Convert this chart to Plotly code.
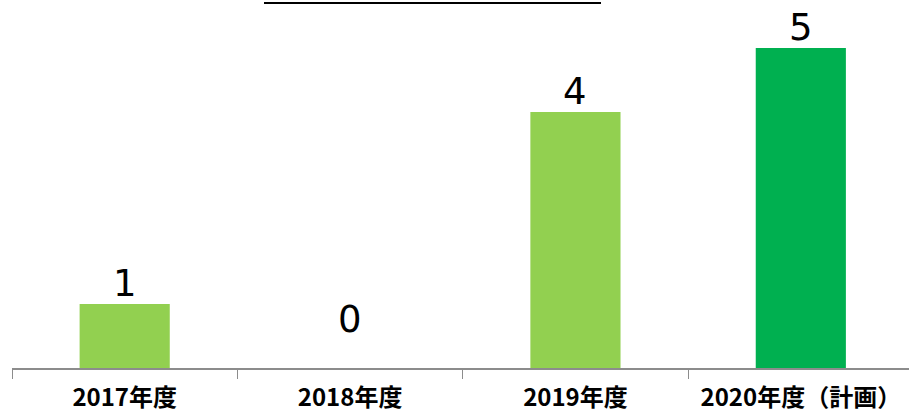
import plotly.graph_objects as go

categories = ["2017年度", "2018年度", "2019年度", "2020年度（計画）"]
values = [1, 0, 4, 5]
colors = ["#92D050", "#92D050", "#92D050", "#00B050"]
labels = ["1", "0", "4", "5"]

fig = go.Figure()
fig.add_trace(go.Bar(
    x=categories, y=values, marker=dict(color=colors, line=dict(width=0)),
    width=0.40, hoverinfo="skip"))

for c, v, t in zip(categories, values, labels):
    fig.add_annotation(x=c, y=v, text=t, showarrow=False, yanchor="bottom",
                       yshift=(25 if v == 0 else -3),
                       font=dict(size=37, color="#000000", family="DejaVu Sans"))

fig.add_shape(type="line", xref="paper", yref="paper", x0=(264-12)/897, x1=(601-12)/897,
              y0=1.0 - 3/368, y1=1.0 - 3/368, line=dict(color="#000000", width=2))

fig.update_layout(
    width=909, height=409,
    margin=dict(l=12, r=0, t=0, b=41),
    paper_bgcolor="white", plot_bgcolor="white",
    showlegend=False,
    xaxis=dict(showline=True, linecolor="#8C8C8C", linewidth=2, ticks="outside",
               tickson="boundaries", ticklen=9, tickcolor="#8C8C8C", tickwidth=1,
               tickfont=dict(size=24, color="#000000", family="Noto Sans CJK JP", weight="bold"),
               showgrid=False, range=[-0.5, 3.48], ticklabelstandoff=7, automargin=False),
    yaxis=dict(range=[0, 5.75], visible=False, showgrid=False),
)
fig.write_html("out.html")
